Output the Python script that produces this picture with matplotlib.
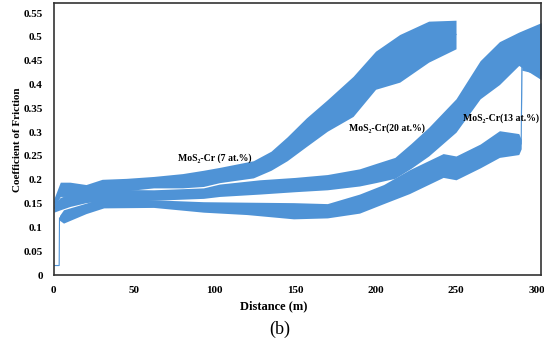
import numpy as np
import matplotlib
matplotlib.use('Agg')
import matplotlib.pyplot as plt

plt.rcParams['font.family'] = ['Liberation Serif', 'DejaVu Serif']

# values (distance in m, coefficient of friction)
# each trace: centre of the noisy band and its half width
x_7 = [0, 4, 10, 20, 30, 45, 62, 80, 93, 103, 124, 135, 145, 157, 170, 186, 200, 215, 233, 250]
mid_7 = [0.15, 0.18, 0.18, 0.175, 0.188, 0.19, 0.195, 0.198, 0.203, 0.21, 0.222, 0.24, 0.265, 0.30,
         0.335, 0.375, 0.43, 0.455, 0.49, 0.505]
half_7 = [0.01, 0.015, 0.015, 0.015, 0.013, 0.013, 0.012, 0.015, 0.017, 0.016, 0.018, 0.02, 0.025,
          0.03, 0.033, 0.042, 0.04, 0.05, 0.043, 0.03]

x_20 = [0, 4, 10, 20, 31, 62, 93, 103, 128, 150, 170, 190, 200, 212, 222, 233, 250, 265, 277, 289, 303]
mid_20 = [0.14, 0.15, 0.157, 0.165, 0.168, 0.168, 0.172, 0.178, 0.185, 0.19, 0.195, 0.205, 0.214,
          0.225, 0.25, 0.28, 0.335, 0.41, 0.445, 0.475, 0.47]
half_20 = [0.008, 0.013, 0.013, 0.013, 0.012, 0.011, 0.011, 0.013, 0.015, 0.015, 0.016, 0.018, 0.02,
           0.022, 0.026, 0.03, 0.035, 0.04, 0.045, 0.035, 0.06]

x_13 = [0, 3.3, 3.5, 6, 20, 31, 62, 93, 120, 149, 170, 190, 205, 221, 242, 250, 265, 277, 289, 290.5, 291, 303]
mid_13 = [0.02, 0.02, 0.12, 0.123, 0.14, 0.152, 0.15, 0.143, 0.14, 0.135, 0.135, 0.15, 0.17, 0.196,
          0.23, 0.225, 0.25, 0.275, 0.275, 0.275, 0.47, 0.47]
half_13 = [0, 0, 0.005, 0.014, 0.011, 0.011, 0.008, 0.011, 0.013, 0.017, 0.015, 0.02, 0.02, 0.025,
           0.025, 0.025, 0.025, 0.028, 0.022, 0.01, 0.04, 0.05]

labels = ['MoS\u2082-Cr (7 at.%)', 'MoS\u2082-Cr(20 at.%)', 'MoS\u2082-Cr(13 at.%)']
label_pos = [(100, 0.245), (207, 0.309), (278, 0.33)]

xticks = [0, 50, 100, 150, 200, 250, 300]
yticks = [0, 0.05, 0.1, 0.15, 0.2, 0.25, 0.3, 0.35, 0.4, 0.45, 0.5, 0.55]

blue = '#4f93d6'

fig = plt.figure(figsize=(5.44, 3.40), dpi=100)
ax = fig.add_axes([0.099, 0.191, 0.896, 0.800])

for xs, m, h in [(x_7, mid_7, half_7), (x_20, mid_20, half_20), (x_13, mid_13, half_13)]:
    xs = np.array(xs)
    m = np.array(m)
    h = np.array(h)
    ax.fill_between(xs, m - h, m + h, color=blue, lw=0)
    ax.plot(xs, m, color=blue, lw=0.8)

for lab, (lx, ly) in zip(labels, label_pos):
    ax.text(lx, ly, lab, fontsize=7, fontweight='bold', ha='center', va='center')

ax.set_xlim(0, 303)
ax.set_ylim(0, 0.571)
ax.set_xticks(xticks)
ax.set_xticklabels([str(t) for t in xticks])
ax.set_yticks(yticks)
ax.set_yticklabels(['0', '0.05', '0.1', '0.15', '0.2', '0.25', '0.3', '0.35', '0.4', '0.45', '0.5', '0.55'])
ax.tick_params(length=0, labelsize=8, pad=8)
for lab in ax.get_xticklabels() + ax.get_yticklabels():
    lab.set_fontweight('bold')
for sp in ax.spines.values():
    sp.set_color('#333333')
    sp.set_linewidth(1.2)

fig.text(0.033, 0.59, 'Coefficient of Friction', rotation=90, fontsize=8, fontweight='bold',
         ha='center', va='center')
fig.text(0.504, 0.10, 'Distance (m)', fontsize=9, fontweight='bold', ha='center', va='center')
fig.text(0.515, 0.03, '(b)', fontsize=13, ha='center', va='center')

fig.savefig('out.png', dpi=100)
